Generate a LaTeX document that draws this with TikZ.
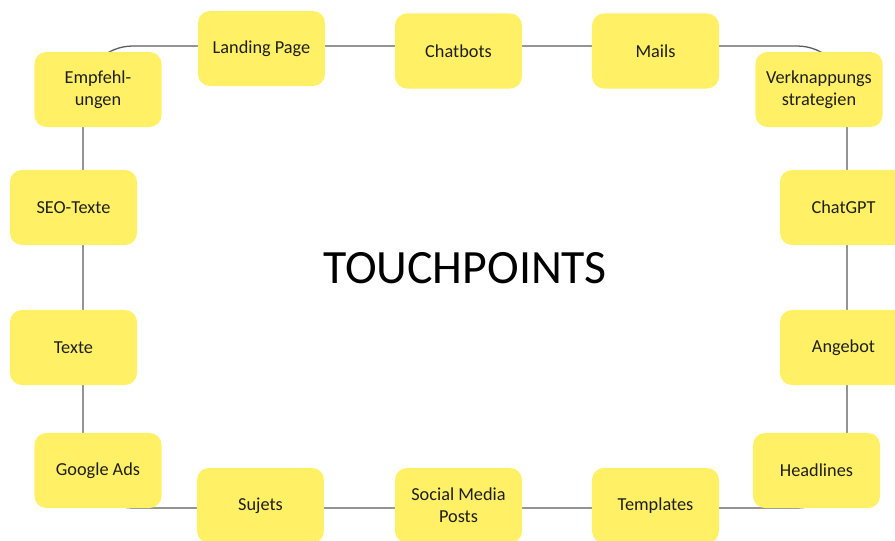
\documentclass[tikz,border=0pt]{standalone}
\usepackage{fontspec}
\setmainfont{Carlito}
\usepackage{xcolor}
\usepackage{tikz}
\usetikzlibrary{backgrounds}
\definecolor{tpyellow}{HTML}{FFF066}
\definecolor{tpline}{HTML}{5A5A5A}
\definecolor{tptext}{HTML}{1E1E1E}
\newcommand{\tf}{\fontsize{13}{15.5}\selectfont}
\newcommand{\tbig}{\fontsize{34}{40}\selectfont}

\begin{document}
\begin{tikzpicture}[x=0.025cm, y=0.025cm,
  every node/.style={inner sep=0pt, outer sep=0pt, text=tptext},
  tpbox/.style={fill=tpyellow, rounded corners=0.3cm, minimum width=3.175cm, minimum height=1.875cm, align=center, font=\tf},
  ring/.style={draw=tpline, line width=0.9pt, rounded corners=1.25cm}]
\useasboundingbox (0,0) rectangle (895,540);
% ---- top row
\node[tpbox] (landing) at (261.5,491.5) {Landing Page};
\node[tpbox] (chatbots) at (458.5,489) {Chatbots};
\node[tpbox] (mails) at (655.5,489) {Mails};
% ---- left column
\node[tpbox] (empf) at (98,450.5) {Empfehl-\\ungen};
\node[tpbox] (seo) at (73.5,332.5) {SEO-Texte};
\node[tpbox] (texte) at (73.5,192.5) {Texte};
\node[tpbox] (gads) at (98,69.5) {Google Ads};
% ---- right column
\node[tpbox] (verkn) at (819,450.5) {Verknappungs\\strategien};
\node[tpbox] (chatgpt) at (843.5,332.5) {ChatGPT};
\node[tpbox] (angebot) at (843.5,192.5) {Angebot};
\node[tpbox] (headl) at (816.5,69.5) {Headlines};
% ---- bottom row
\node[tpbox] (sujets) at (260.5,34.5) {Sujets};
\node[tpbox] (social) at (458.5,34.5) {Social Media\\Posts};
\node[tpbox] (templ) at (655.5,34.5) {Templates};
% ---- title
\node[font=\tbig, text=black] (title) at (465,272) {TOUCHPOINTS};
% ---- ring behind the boxes
\coordinate (ringtl) at (83,494);
\coordinate (ringbr) at (847,32);
\begin{scope}[on background layer]
\draw[ring] (ringtl) rectangle (ringbr);
\end{scope}
\end{tikzpicture}
\end{document}
